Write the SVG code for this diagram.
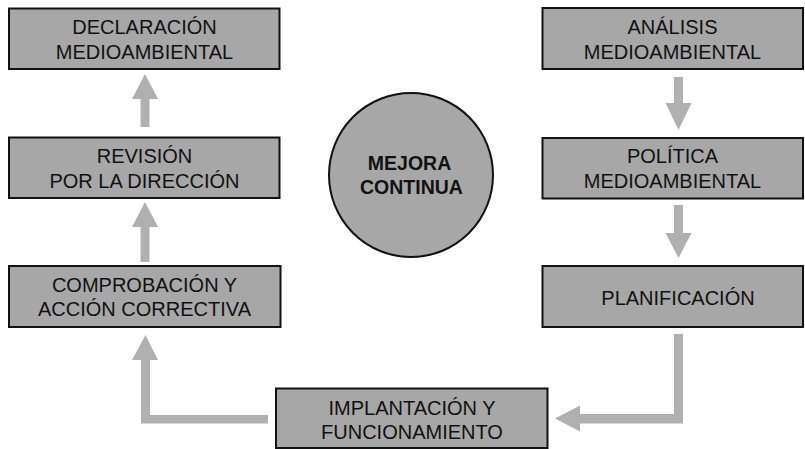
<svg xmlns="http://www.w3.org/2000/svg" width="805" height="449" viewBox="0 0 805 449">
<style>
.box{fill:#a7a7a7;stroke:#111;stroke-width:2}
.t{font-family:"Liberation Sans",Arial,sans-serif;font-size:20px;fill:#111;text-anchor:middle}
.tb{font-family:"Liberation Sans",Arial,sans-serif;font-size:19.5px;font-weight:bold;fill:#111;text-anchor:middle}
.arr{fill:#b0b0b0;stroke:none}
</style>
<rect width="805" height="449" fill="#fff"/>
<g id="connectors">
<path class="arr" d="M140.5,127 L140.5,99 L132,99 L145,74 L158,99 L149.5,99 L149.5,127 Z"/>
<path class="arr" d="M140.5,262 L140.5,227 L132,227 L145,202 L158,227 L149.5,227 L149.5,262 Z"/>
<path class="arr" d="M268,415 L150,415 L150,360 L158,360 L145.5,335 L132,360 L141,360 L141,423.5 L268,423.5 Z"/>
<path class="arr" d="M674,77 L683,77 L683,103 L691.5,103 L678.5,130 L665.5,103 L674,103 Z"/>
<path class="arr" d="M674,205 L683,205 L683,233 L691.5,233 L678.5,258 L665.5,233 L674,233 Z"/>
<path class="arr" d="M674,334 L683,334 L683,423.5 L580,423.5 L580,431.5 L555,418.5 L580,405.5 L580,414 L674,414 Z"/>
</g>
<g id="declaracion">
<rect class="box" x="9" y="8.5" width="270.5" height="60.5"/>
<text class="t" x="144.5" y="33.5">DECLARACIÓN</text>
<text class="t" x="144.5" y="58.5">MEDIOAMBIENTAL</text>
</g>
<g id="revision">
<rect class="box" x="9" y="137.5" width="270.5" height="60.5"/>
<text class="t" x="144.5" y="163">REVISIÓN</text>
<text class="t" x="144.5" y="188">POR LA DIRECCIÓN</text>
</g>
<g id="comprobacion">
<rect class="box" x="9" y="266" width="271.5" height="61"/>
<text class="t" x="144.5" y="292">COMPROBACIÓN Y</text>
<text class="t" x="144.5" y="315.5">ACCIÓN CORRECTIVA</text>
</g>
<g id="analisis">
<rect class="box" x="542.5" y="8" width="260.5" height="61"/>
<text class="t" x="672.5" y="33.5">ANÁLISIS</text>
<text class="t" x="672.5" y="58.5">MEDIOAMBIENTAL</text>
</g>
<g id="politica">
<rect class="box" x="542.5" y="138" width="260.5" height="60.5"/>
<text class="t" x="672.5" y="162.5">POLÍTICA</text>
<text class="t" x="672.5" y="187.5">MEDIOAMBIENTAL</text>
</g>
<g id="planificacion">
<rect class="box" x="542.5" y="266" width="260.5" height="61"/>
<text class="t" x="678" y="304.5">PLANIFICACIÓN</text>
</g>
<g id="implantacion">
<rect class="box" x="276" y="388.5" width="271.5" height="59.5"/>
<text class="t" x="412" y="414.5">IMPLANTACIÓN Y</text>
<text class="t" x="412" y="438.5">FUNCIONAMIENTO</text>
</g>
<g id="mejora">
<circle cx="411" cy="175" r="82" fill="#a7a7a7" stroke="#111" stroke-width="2"/>
<text class="tb" x="409.5" y="170">MEJORA</text>
<text class="tb" x="411.5" y="194">CONTINUA</text>
</g>
</svg>
